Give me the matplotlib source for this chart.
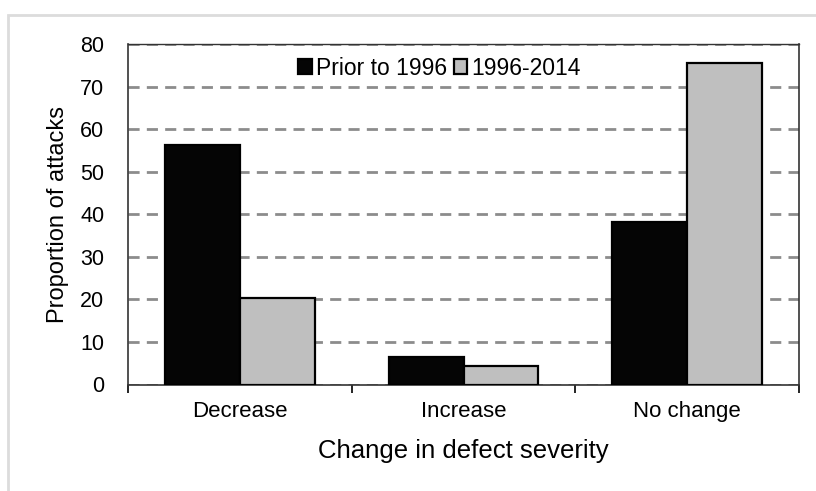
import matplotlib
matplotlib.use("Agg")
import matplotlib.pyplot as plt
import numpy as np
from matplotlib.patches import Rectangle

categories = ["Decrease", "Increase", "No change"]
series_names = ["Prior to 1996", "1996-2014"]
prior = [56.2, 6.5, 38.1]
recent = [20.3, 4.3, 75.6]
yticks = [0, 10, 20, 30, 40, 50, 60, 70, 80]

plt.rcParams['font.family'] = ['Liberation Sans', 'DejaVu Sans']

fig = plt.figure(figsize=(8.16, 4.91), dpi=100)
# light gray outer frame (left and top edges visible)
fig.patches.append(Rectangle((8/816, -0.2), 1.2, 1.2 - 15/491, transform=fig.transFigure,
                             fill=False, edgecolor='#dcdcdc', linewidth=2.0, zorder=0))

ax = fig.add_axes([128/816, 1-384.5/491, (799-128)/816, (384.5-44)/491])

x = np.arange(len(categories))
w = 0.335
ax.bar(x - w/2, prior, width=w, color='#050505', edgecolor='black', linewidth=1.6,
       label=series_names[0], zorder=3)
ax.bar(x + w/2, recent, width=w, color='#bfbfbf', edgecolor='black', linewidth=1.6,
       label=series_names[1], zorder=3)

ax.set_xlim(-0.5, 2.5)
ax.set_ylim(0, 80)
ax.set_yticks(yticks)
ax.set_yticklabels([str(v) for v in yticks], fontsize=15.5)
ax.tick_params(axis='y', length=0, pad=17)

ax.set_xticks(x)
ax.set_xticklabels(categories, fontsize=16)
ax.tick_params(axis='x', length=0, pad=12)
ax.set_xticks([-0.5, 0.5, 1.5, 2.5], minor=True)
ax.tick_params(axis='x', which='minor', length=6, width=1.2, direction='out')

ax.yaxis.grid(True, color='#8c8c8c', linestyle=(0, (4, 2.6)), linewidth=2.0, zorder=1)
ax.set_axisbelow(True)

for s in ['left', 'right', 'bottom']:
    ax.spines[s].set_color('#333333')
    ax.spines[s].set_linewidth(1.2)
ax.spines['top'].set_color('#333333')
ax.spines['top'].set_linewidth(1.0)

ax.set_xlabel("Change in defect severity", fontsize=18.5, labelpad=12)
ax.set_ylabel("Proportion of attacks", fontsize=17, labelpad=8)

leg = ax.legend(loc='upper center', bbox_to_anchor=(0.464, 1.0), ncol=2, frameon=False,
                fontsize=16.5, handlelength=0.6, handleheight=0.6, handletextpad=0.15,
                columnspacing=0.3, borderaxespad=0.15)

fig.savefig("out.png", dpi=100, facecolor='white')
